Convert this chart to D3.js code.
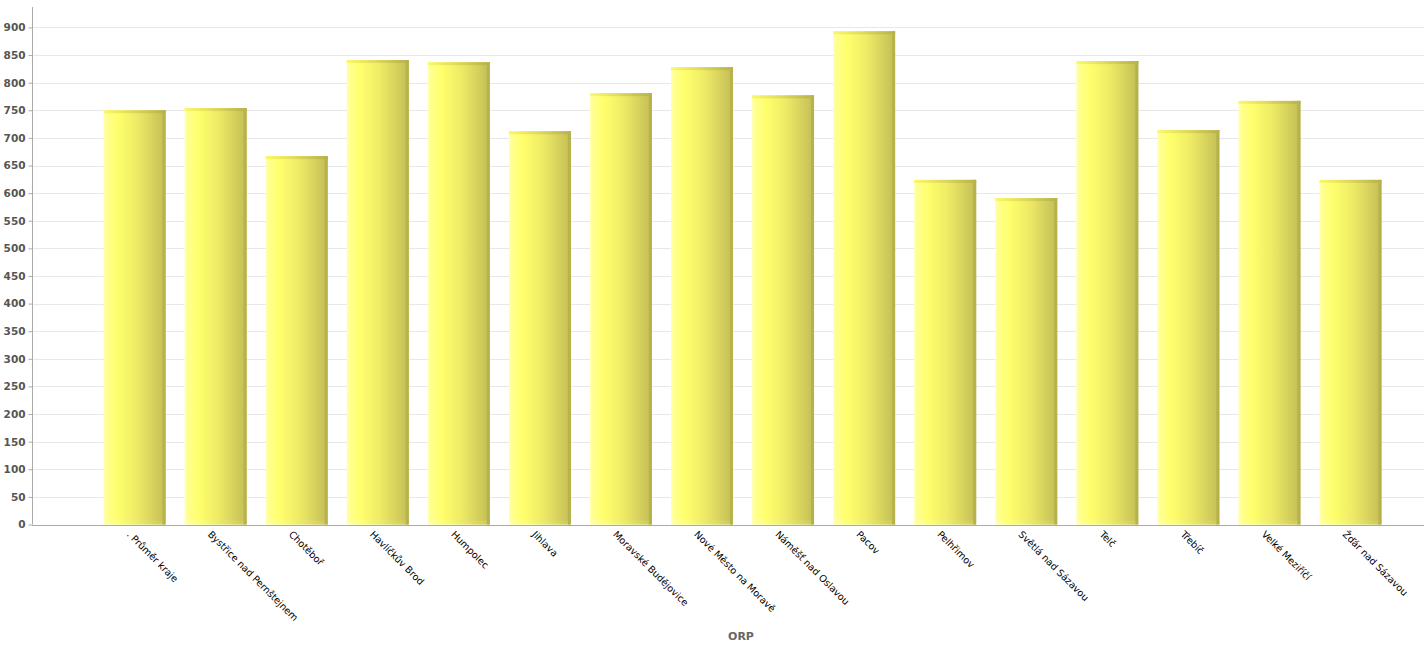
<!DOCTYPE html>
<html>
<head>
<meta charset="utf-8">
<script src="https://cdn.jsdelivr.net/npm/d3@7"></script>
<style>
  body { margin: 0; background: #fff; }
  svg { display: block; }
</style>
</head>
<body>
<svg id="chart"></svg>
<script>
// Data
const categories = [
    ". Průměr kraje", "Bystřice nad Pernštejnem", "Chotěboř", "Havlíčkův Brod",
    "Humpolec", "Jihlava", "Moravské Budějovice", "Nové Město na Moravě",
    "Náměšť nad Oslavou", "Pacov", "Pelhřimov", "Světlá nad Sázavou",
    "Telč", "Třebíč", "Velké Meziříčí", "Žďár nad Sázavou"
];
const values = [750, 754, 667, 841, 837, 712, 781, 828, 777, 893, 624, 591, 839, 714, 767, 624];
const yTicks = [0, 50, 100, 150, 200, 250, 300, 350, 400, 450, 500, 550, 600, 650, 700, 750, 800, 850, 900];
const yMax = 937;
const xTitle = "ORP";

const width = 1425;
const height = 650;
const plot = { left: 32, right: 1424, top: 7, bottom: 524.5 };

const svg = d3.select("#chart")
    .attr("width", width)
    .attr("height", height);

// Gradients for the bar faces
const defs = svg.append("defs");
const frontGrad = defs.append("linearGradient").attr("id", "barFront")
    .attr("x1", "0%").attr("x2", "100%").attr("y1", "0%").attr("y2", "0%");
[["0%", "#ffffb8"], ["5%", "#ffff90"], ["22%", "#ffff6c"], ["55%", "#eeea66"], ["100%", "#c2bd55"]]
    .forEach(s => frontGrad.append("stop").attr("offset", s[0]).attr("stop-color", s[1]));
const topGrad = defs.append("linearGradient").attr("id", "barTop")
    .attr("x1", "0%").attr("x2", "100%").attr("y1", "0%").attr("y2", "0%");
[["0%", "#fbf868"], ["40%", "#e4df5c"], ["100%", "#b6b14b"]]
    .forEach(s => topGrad.append("stop").attr("offset", s[0]).attr("stop-color", s[1]));
const baseGrad = defs.append("linearGradient").attr("id", "barBase")
    .attr("x1", "0%").attr("x2", "100%").attr("y1", "0%").attr("y2", "0%");
[["0%", "#ffffc0"], ["25%", "#ffff88"], ["100%", "#d4cf62"]]
    .forEach(s => baseGrad.append("stop").attr("offset", s[0]).attr("stop-color", s[1]));

const x = d3.scaleBand()
    .domain(categories)
    .range([94, 1391])
    .paddingInner(0.235)
    .paddingOuter(0.1175);

const y = d3.scaleLinear()
    .domain([0, yMax])
    .range([plot.bottom, plot.top]);

// Gridlines
svg.append("g")
    .selectAll("line")
    .data(yTicks.filter(d => d > 0))
    .join("line")
    .attr("x1", plot.left)
    .attr("x2", plot.right)
    .attr("y1", d => Math.round(y(d)) + 0.5)
    .attr("y2", d => Math.round(y(d)) + 0.5)
    .attr("stroke", "#e8e8e8")
    .attr("stroke-width", 1);

// Bars
const bars = svg.append("g")
    .selectAll("g")
    .data(categories.map((c, i) => ({ name: c, value: values[i] })))
    .join("g")
    .attr("transform", d => `translate(${x(d.name)},0)`);

const bw = x.bandwidth();
bars.append("rect")
    .attr("x", 0)
    .attr("y", d => y(d.value))
    .attr("width", bw)
    .attr("height", d => plot.bottom - y(d.value))
    .attr("fill", "url(#barFront)");
bars.append("rect")
    .attr("x", bw - 3)
    .attr("y", d => y(d.value))
    .attr("width", 3)
    .attr("height", d => plot.bottom - y(d.value))
    .attr("fill", "#b7b24b");
bars.append("rect")
    .attr("x", 0)
    .attr("y", d => y(d.value))
    .attr("width", bw)
    .attr("height", 3)
    .attr("fill", "url(#barTop)");
bars.append("rect")
    .attr("x", 0)
    .attr("y", plot.bottom - 4)
    .attr("width", bw - 3)
    .attr("height", 4)
    .attr("fill", "url(#barBase)")
    .attr("opacity", 0.6);

// Y axis
const yAxis = svg.append("g")
    .attr("transform", `translate(${plot.left + 0.5},0)`)
    .call(d3.axisLeft(y).tickValues(yTicks).tickSize(4).tickPadding(3))
    .call(g => g.select(".domain").attr("stroke", "#aaaaaa").attr("d", `M0,${plot.top}V${plot.bottom}`));
yAxis.selectAll(".tick line").attr("stroke", "#aaaaaa");
yAxis.selectAll(".tick text")
    .attr("fill", "#555555")
    .attr("font-family", "DejaVu Sans, Verdana, sans-serif")
    .attr("font-weight", "bold")
    .attr("font-size", "10.5px");

// X axis line
svg.append("line")
    .attr("x1", plot.left)
    .attr("x2", plot.right)
    .attr("y1", Math.round(plot.bottom) + 0.5)
    .attr("y2", Math.round(plot.bottom) + 0.5)
    .attr("stroke", "#aaaaaa");

// X labels rotated 45 degrees
svg.append("g")
    .selectAll("text")
    .data(categories)
    .join("text")
    .attr("transform", d => `translate(${x(d) + bw / 2 - 6},${plot.bottom + 8}) rotate(45)`)
    .attr("dy", "0.35em")
    .attr("font-family", "DejaVu Sans, Verdana, sans-serif")
    .attr("font-size", "9.6px")
    .attr("fill", "#000")
    .text(d => d);

// X axis title
svg.append("text")
    .attr("x", 741)
    .attr("y", 640)
    .attr("text-anchor", "middle")
    .attr("font-family", "DejaVu Sans, Verdana, sans-serif")
    .attr("font-weight", "bold")
    .attr("font-size", "11px")
    .attr("fill", "#666666")
    .text(xTitle);
</script>
</body>
</html>
